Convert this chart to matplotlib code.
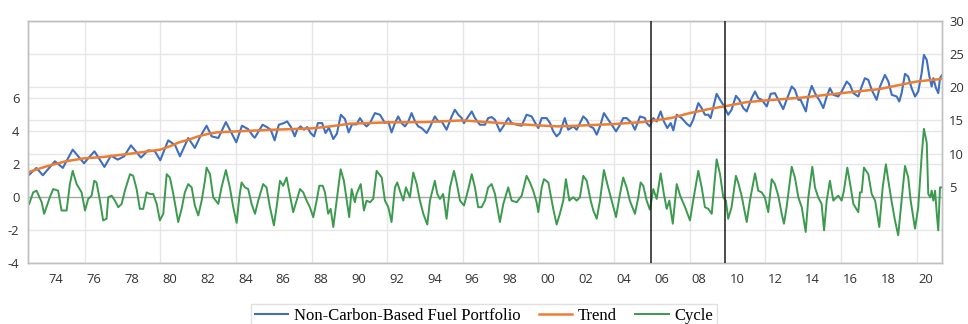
import matplotlib.pyplot as plt
from matplotlib.ticker import FixedLocator, FixedFormatter, NullFormatter
from matplotlib.transforms import blended_transform_factory

plt.rcParams['axes.unicode_minus'] = False

# values (decimal years)
port_t = [1973.04, 1973.45, 1973.79, 1974.43, 1974.85, 1975.37, 1975.97, 1976.16, 1976.52, 1977.05,
          1977.39, 1977.75, 1978.09, 1978.45, 1978.98, 1979.36, 1979.72, 1980.0, 1980.42, 1980.78,
          1981.04, 1981.48, 1981.83, 1982.1, 1982.45, 1982.72, 1983.07, 1983.47, 1983.68, 1984.02,
          1984.32, 1984.64, 1984.92, 1985.0, 1985.41, 1985.64, 1985.84, 1986.05, 1986.27, 1986.54,
          1986.71, 1986.91, 1987.11, 1987.24, 1987.42, 1987.6, 1987.77, 1987.95, 1988.13, 1988.34,
          1988.56, 1988.74, 1988.92, 1989.15, 1989.34, 1989.55, 1989.77, 1989.96, 1990.14, 1990.38,
          1990.56, 1990.73, 1990.91, 1991.09, 1991.35, 1991.62, 1991.88, 1992.06, 1992.23, 1992.41,
          1992.58, 1992.76, 1992.94, 1993.11, 1993.29, 1993.47, 1993.64, 1993.82, 1994.09, 1994.26,
          1994.52, 1994.7, 1994.88, 1995.14, 1995.41, 1995.58, 1995.76, 1995.94, 1996.06, 1996.29,
          1996.47, 1996.64, 1996.9, 1997.17, 1997.34, 1997.52, 1997.7, 1997.96, 1998.14, 1998.4,
          1998.58, 1998.85, 1999.11, 1999.37, 1999.64, 1999.81, 1999.99, 2000.17, 2000.43, 2000.61,
          2000.78, 2000.96, 2001.13, 2001.39, 2001.57, 2001.84, 2002.02, 2002.37, 2002.55, 2002.72,
          2002.9, 2003.08, 2003.25, 2003.46, 2003.69, 2003.87, 2004.1, 2004.31, 2004.48, 2004.66,
          2004.93, 2005.1, 2005.37, 2005.63, 2005.72, 2005.89, 2006.07, 2006.25, 2006.46, 2006.63,
          2006.81, 2006.99, 2007.13, 2007.31, 2007.57, 2007.84, 2008.01, 2008.18, 2008.45, 2008.63,
          2008.8, 2008.98, 2009.1, 2009.42, 2009.6, 2009.77, 2010.03, 2010.21, 2010.44, 2010.62,
          2010.83, 2011.01, 2011.27, 2011.45, 2011.62, 2011.8, 2012.07, 2012.28, 2012.5, 2012.68,
          2012.94, 2013.12, 2013.39, 2013.56, 2013.74, 2013.86, 2014.14, 2014.27, 2014.45, 2014.62,
          2014.89, 2015.06, 2015.24, 2015.41, 2015.59, 2015.85, 2016.03, 2016.3, 2016.47, 2016.65,
          2016.91, 2017.09, 2017.26, 2017.44, 2017.62, 2017.88, 2018.06, 2018.32, 2018.5, 2018.68,
          2018.94, 2019.08, 2019.2, 2019.38, 2019.55, 2019.73, 2019.91, 2020.08, 2020.26, 2020.38,
          2020.53, 2020.67, 2020.79, 2020.88, 2021.02, 2021.14, 2021.23, 2021.35]
port_v = [6.75, 7.85, 6.75, 8.85, 7.85, 10.6, 8.55, 9.2, 10.35, 8.0,
          9.7, 9.1, 9.6, 11.25, 9.4, 10.5, 10.35, 9.0, 12.0, 11.3,
          9.6, 12.35, 10.85, 12.5, 14.2, 12.6, 12.35, 14.75, 13.6, 11.7,
          14.2, 13.7, 12.6, 12.4, 14.35, 14.0, 13.6, 12.0, 14.35, 14.6,
          14.85, 14.0, 12.6, 13.6, 14.1, 13.6, 14.0, 13.1, 12.6, 14.6,
          14.6, 13.1, 13.9, 12.2, 13.0, 15.85, 15.2, 13.2, 14.4, 14.4,
          15.35, 14.6, 14.1, 14.6, 16.1, 15.85, 14.6, 14.8, 13.2, 14.6,
          15.6, 14.6, 14.1, 14.8, 16.1, 14.85, 14.1, 13.85, 13.1, 14.0,
          15.6, 14.85, 14.85, 13.6, 15.6, 16.6, 15.85, 15.35, 14.6, 15.6,
          16.35, 15.35, 14.35, 14.35, 15.35, 15.5, 15.1, 13.35, 14.1, 15.35,
          14.6, 14.35, 14.2, 15.85, 15.6, 14.7, 13.85, 15.35, 15.35, 14.6,
          13.35, 12.6, 13.1, 15.35, 13.6, 14.1, 13.6, 15.6, 15.1, 14.1,
          13.85, 12.85, 14.1, 16.1, 15.1, 14.35, 13.35, 14.35, 15.35, 15.35,
          14.6, 13.6, 15.6, 15.35, 14.6, 14.1, 15.35, 14.85, 16.35, 14.85,
          13.85, 14.6, 13.5, 15.85, 15.35, 14.5, 14.1, 15.1, 17.6, 16.85,
          15.85, 15.85, 15.35, 19.0, 18.1, 17.35, 15.85, 16.6, 18.7, 18.1,
          16.85, 16.35, 18.35, 19.35, 18.35, 18.1, 17.1, 19.0, 19.1, 18.1,
          16.7, 18.1, 20.1, 19.6, 18.1, 18.1, 16.35, 18.6, 20.2, 19.1,
          17.85, 16.85, 18.6, 19.85, 18.85, 18.6, 19.35, 20.85, 20.35, 19.1,
          18.6, 20.1, 21.35, 21.1, 19.6, 18.1, 20.1, 21.85, 20.85, 18.85,
          18.6, 17.85, 19.1, 22.0, 21.6, 19.85, 18.6, 19.35, 22.1, 24.85,
          24.1, 21.6, 20.1, 21.35, 19.85, 19.1, 21.35, 21.85]

trend_t = [1973.0, 1974.0, 1975.0, 1976.0, 1977.0, 1978.0, 1979.0, 1980.0, 1980.5, 1981.0,
           1981.5, 1982.0, 1982.5, 1983.0, 1984.0, 1986.0, 1988.0, 1989.0, 1990.0, 1992.0,
           1994.0, 1996.0, 1998.0, 2000.0, 2001.0, 2002.0, 2004.0, 2005.5, 2007.0, 2008.0,
           2009.0, 2010.0, 2011.0, 2012.0, 2014.0, 2016.0, 2018.0, 2020.0, 2021.35]
trend_v = [7.2, 8.1, 8.85, 9.3, 9.5, 9.85, 10.2, 10.6, 11.1, 11.7,
           12.1, 12.6, 12.95, 13.2, 13.35, 13.6, 13.8, 14.1, 14.5, 14.7,
           14.75, 15.0, 14.6, 14.25, 14.1, 14.2, 14.45, 14.75, 15.35, 16.1,
           16.7, 17.2, 17.75, 18.0, 18.45, 19.1, 19.7, 20.85, 21.25]

cycle_t = [1973.07, 1973.28, 1973.46, 1973.73, 1973.86, 1974.16, 1974.34, 1974.6, 1974.78, 1975.05,
           1975.22, 1975.37, 1975.58, 1975.84, 1976.02, 1976.19, 1976.37, 1976.51, 1976.63, 1976.81,
           1976.98, 1977.16, 1977.25, 1977.43, 1977.6, 1977.78, 1977.96, 1978.13, 1978.4, 1978.57,
           1978.75, 1978.92, 1979.1, 1979.28, 1979.45, 1979.63, 1979.81, 1979.98, 1980.16, 1980.34,
           1980.51, 1980.69, 1980.95, 1981.13, 1981.3, 1981.48, 1981.66, 1981.83, 1982.01, 1982.19,
           1982.36, 1982.45, 1982.63, 1982.8, 1983.07, 1983.24, 1983.47, 1983.68, 1983.86, 1984.04,
           1984.18, 1984.3, 1984.48, 1984.65, 1984.83, 1985.01, 1985.18, 1985.44, 1985.62, 1985.8,
           1986.01, 1986.15, 1986.33, 1986.5, 1986.68, 1986.86, 1987.03, 1987.21, 1987.39, 1987.56,
           1987.74, 1987.91, 1988.09, 1988.27, 1988.41, 1988.59, 1988.71, 1988.88, 1989.01, 1989.15,
           1989.33, 1989.54, 1989.71, 1989.86, 1989.99, 1990.12, 1990.29, 1990.38, 1990.6, 1990.77,
           1990.91, 1991.09, 1991.26, 1991.44, 1991.71, 1991.88, 1992.06, 1992.23, 1992.41, 1992.53,
           1992.67, 1992.85, 1992.99, 1993.2, 1993.38, 1993.56, 1993.73, 1993.91, 1994.12, 1994.26,
           1994.52, 1994.65, 1994.79, 1994.96, 1995.14, 1995.32, 1995.53, 1995.67, 1995.85, 1996.06,
           1996.29, 1996.47, 1996.64, 1996.81, 1996.99, 1997.17, 1997.34, 1997.52, 1997.7, 1997.96,
           1998.14, 1998.4, 1998.58, 1998.85, 1999.11, 1999.37, 1999.55, 1999.72, 1999.9, 1999.99,
           2000.17, 2000.29, 2000.52, 2000.7, 2000.78, 2000.96, 2001.13, 2001.31, 2001.45, 2001.63,
           2001.84, 2002.02, 2002.19, 2002.37, 2002.55, 2002.76, 2002.9, 2003.08, 2003.25, 2003.46,
           2003.64, 2003.87, 2004.1, 2004.31, 2004.48, 2004.66, 2004.83, 2005.1, 2005.28, 2005.4,
           2005.54, 2005.72, 2005.89, 2006.07, 2006.25, 2006.46, 2006.63, 2006.78, 2006.92, 2007.1,
           2007.31, 2007.49, 2007.75, 2008.01, 2008.18, 2008.45, 2008.63, 2008.8, 2008.98, 2009.16,
           2009.42, 2009.6, 2009.77, 2009.91, 2010.03, 2010.21, 2010.44, 2010.56, 2010.74, 2011.01,
           2011.18, 2011.45, 2011.62, 2011.8, 2011.97, 2012.15, 2012.33, 2012.5, 2012.68, 2012.86,
           2012.98, 2013.12, 2013.39, 2013.56, 2013.74, 2013.92, 2014.13, 2014.27, 2014.48, 2014.62,
           2014.79, 2014.97, 2015.1, 2015.24, 2015.41, 2015.59, 2015.85, 2016.03, 2016.15, 2016.33,
           2016.51, 2016.65, 2016.91, 2017.0, 2017.09, 2017.21, 2017.44, 2017.62, 2017.8, 2018.02,
           2018.2, 2018.37, 2018.5, 2018.68, 2018.85, 2019.02, 2019.2, 2019.38, 2019.55, 2019.68,
           2019.91, 2020.08, 2020.26, 2020.38, 2020.53, 2020.61, 2020.72, 2020.79, 2020.88, 2020.97,
           2021.06, 2021.14, 2021.23, 2021.35]
cycle_v = [-0.4, 0.3, 0.4, -0.3, -1.0, 0.0, 0.5, 0.4, -0.8, -0.8,
           0.8, 1.6, 0.8, 0.3, -0.8, -0.1, 0.1, 1.0, 0.9, -0.2,
           -1.4, -1.3, 0.0, 0.1, -0.2, -0.6, -0.4, 0.4, 1.4, 1.3,
           0.5, -0.7, -0.7, 0.3, 0.2, 0.2, -0.4, -1.4, -1.0, 1.4,
           1.2, 0.2, -1.5, -0.7, 0.3, 0.8, 0.6, -0.5, -1.1, -0.2,
           1.0, 1.8, 1.4, 0.0, -0.4, 0.6, 1.65, 0.6, -0.6, -1.55,
           0.0, 0.9, 0.6, 0.5, -0.4, -1.0, -0.2, 0.8, 0.6, -0.6,
           -1.7, -0.6, 1.0, 0.7, 1.2, 0.1, -0.9, -0.2, 0.5, 0.3,
           -0.2, -0.6, -1.2, -0.2, 0.7, 0.7, 0.3, -1.0, -0.7, -1.8,
           -0.2, 1.7, 1.0, -0.2, -1.2, 0.5, -0.3, 0.2, 0.8, -0.8,
           -0.2, -0.3, -0.1, 1.6, 1.2, -0.2, -0.6, -1.5, 0.6, 0.9,
           0.4, -0.2, 0.6, 0.0, 1.5, 0.8, -0.2, -1.0, -1.65, -0.2,
           1.0, 0.2, -0.1, 0.2, -1.3, 0.6, 1.6, 0.9, -0.2, -0.5,
           0.5, 1.4, 0.6, -0.6, -0.6, -0.2, 0.6, 0.8, 0.2, -1.5,
           -0.4, 0.6, -0.2, -0.3, 0.1, 1.3, 0.9, 0.4, -0.3, -0.9,
           0.6, 1.1, 0.9, -0.2, -0.7, -1.65, -1.0, -0.2, 1.1, -0.2,
           0.0, -0.2, 0.0, 1.3, 1.0, -0.2, -0.8, -1.3, -0.2, 1.65,
           0.8, -0.2, -1.2, 0.2, 1.2, 0.6, -0.2, -1.0, 0.0, 0.9,
           0.7, -0.2, -0.75, 0.5, -0.1, 1.45, 0.2, -0.7, -0.2, -1.6,
           0.8, 0.1, -0.6, -1.4, -0.2, 1.6, 0.6, -0.6, -0.7, -1.0,
           2.3, 1.4, 0.0, -0.2, -1.3, -0.6, 1.3, 0.9, 0.1, -1.5,
           -0.2, 1.45, 0.4, 0.3, 0.0, -0.9, 1.1, 0.8, 0.1, -1.0,
           -1.6, -0.6, 1.85, 1.2, 0.0, -0.6, -2.1, 0.0, 1.85, 0.6,
           0.0, -0.4, -2.0, -0.2, 1.0, -0.2, 0.1, -0.2, 0.4, 1.8,
           0.6, -0.4, -0.9, 0.3, 0.3, 1.8, 1.4, 0.2, -0.2, -1.8,
           0.6, 2.0, 1.0, -0.3, -1.4, -2.3, -0.2, 1.9, 1.2, -0.2,
           -1.9, -0.6, 2.5, 4.15, 3.3, 0.2, 0.0, 0.4, -0.2, 0.4,
           -1.0, -2.0, 0.6, 0.6]

break_years = [2005.95, 2009.85]
label_years = list(range(1974, 2021, 2))
grid_years = list(range(1976, 2021, 4))
left_ticks = [-4, -2, 0, 2, 4, 6]
right_ticks = [5, 10, 15, 20, 25, 30]

blue = '#3f6fbf'
orange = '#ed7d31'
green = '#3c9a4e'
grid_c = '#e6e6e6'
text_c = '#333333'
tick_font = {'family': 'Open Sans', 'size': 9.4}

fig = plt.figure(figsize=(9.68, 3.24), dpi=100)
ax1 = fig.add_axes([0.0286, 0.1873, 0.9448, 0.7488])
ax2 = ax1.twinx()
ax1.set_zorder(3)
ax1.patch.set_visible(False)

ax1.set_xlim(1972.99, 2021.35)
ax1.set_ylim(-4, 10.7)
ax2.set_ylim(-6.5, 30)

# gridlines, all drawn in the lower axes
blend = blended_transform_factory(ax2.transAxes, ax1.transData)
for yr in grid_years:
    ax2.axvline(yr, color=grid_c, lw=1, zorder=0)
for v in right_ticks[1:]:
    ax2.axhline(v, color=grid_c, lw=1, zorder=0)
for v in left_ticks:
    if v == 0:
        ax2.plot([0, 1], [v, v], transform=blend, color='#a6a6a6', lw=1, zorder=0.5)
    else:
        ax2.plot([0, 1], [v, v], transform=blend, color=grid_c, lw=1, zorder=0)

l_port, = ax2.plot(port_t, port_v, color=blue, lw=1.5, zorder=2)
l_trend, = ax2.plot(trend_t, trend_v, color=orange, lw=1.8, zorder=3)
l_cycle, = ax1.plot(cycle_t, cycle_v, color=green, lw=1.4, zorder=2)
for yr in break_years:
    ax1.axvline(yr, color='#1a1a1a', lw=1.1, zorder=4)

ax1.xaxis.set_major_locator(FixedLocator(grid_years))
ax1.xaxis.set_major_formatter(NullFormatter())
ax1.xaxis.set_minor_locator(FixedLocator([y + 0.5 for y in label_years]))
ax1.xaxis.set_minor_formatter(FixedFormatter([f'{y % 100:02d}' for y in label_years]))
ax1.tick_params(axis='x', which='both', length=0, pad=7, colors=text_c)
ax1.set_yticks(left_ticks)
ax1.tick_params(axis='y', length=0, pad=6, colors=text_c)
ax2.set_yticks(right_ticks)
ax2.tick_params(axis='y', length=0, pad=5, colors=text_c)
for lab in ax1.get_xticklabels(minor=True) + ax1.get_yticklabels() + ax2.get_yticklabels():
    lab.set_fontfamily(tick_font['family'])
    lab.set_fontsize(tick_font['size'])

for ax in (ax1, ax2):
    for sp in ax.spines.values():
        sp.set_color('#bfbfbf')
        sp.set_linewidth(1)

leg = fig.legend([l_port, l_trend, l_cycle], ['Non-Carbon-Based Fuel Portfolio', 'Trend', 'Cycle'],
                 loc='upper center', bbox_to_anchor=(0.5, 0.086), ncol=3,
                 prop={'family': 'Liberation Serif', 'size': 12},
                 frameon=True, fancybox=False, edgecolor='#d9d9d9',
                 handlelength=2.0, handletextpad=0.35, columnspacing=1.1, borderpad=0.2)
leg.get_frame().set_linewidth(1)

fig.savefig('out.png', dpi=100)
